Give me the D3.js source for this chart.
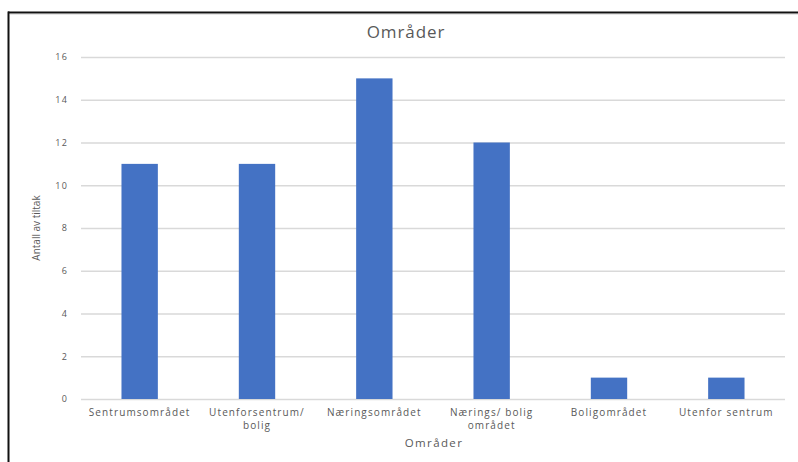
<!DOCTYPE html>
<html><head><meta charset="utf-8">
<script src="https://cdn.jsdelivr.net/npm/d3@7"></script>
<style>body{margin:0;background:#fff}text{font-family:"Open Sans","DejaVu Sans",sans-serif}</style>
</head><body><svg id="c" width="798" height="462"></svg>
<script>
const categories = [["Sentrumsområdet"],["Utenforsentrum/","bolig"],["Næringsområdet"],["Nærings/ bolig","området"],["Boligområdet"],["Utenfor sentrum"]];
const values = [11, 11, 15, 12, 1, 1];
const yTicks = [0, 2, 4, 6, 8, 10, 12, 14, 16];
const title = "Områder";
const xTitle = "Områder";
const yTitle = "Antall av tiltak";

const svg = d3.select("#c");
const m = {l: 81, r: 785, t: 57, b: 399};
const x = d3.scaleBand().domain(d3.range(values.length)).range([m.l, m.r]).paddingInner(0.69).paddingOuter(0.345);
const y = d3.scaleLinear().domain([0, 16]).range([m.b, m.t]);

// frame
svg.append("line").attr("x1", 8).attr("x2", 798).attr("y1", 12.5).attr("y2", 12.5).attr("stroke", "#111").attr("stroke-width", 2);
svg.append("line").attr("x1", 8.5).attr("x2", 8.5).attr("y1", 11.5).attr("y2", 462).attr("stroke", "#111").attr("stroke-width", 2);
svg.append("line").attr("x1", 10).attr("x2", 798).attr("y1", 14.5).attr("y2", 14.5).attr("stroke", "#e6e6e6").attr("stroke-width", 1);

// grid
const yAxis = d3.axisLeft(y).tickValues(yTicks).tickSize(-(m.r - m.l)).tickPadding(13);
const ga = svg.append("g").attr("transform", `translate(${m.l},0)`).call(yAxis);
ga.select(".domain").remove();
ga.selectAll(".tick line").attr("stroke", "#d9d9d9").attr("stroke-width", 1.5);
ga.selectAll(".tick text").attr("fill", "#595959").attr("font-size", 9).attr("letter-spacing", 1.2).attr("font-family", "Open Sans, sans-serif");

// bars
svg.selectAll("rect.bar").data(values).join("rect").attr("class", "bar")
  .attr("x", (d, i) => x(i)).attr("width", x.bandwidth())
  .attr("y", d => y(d)).attr("height", d => y(0) - y(d))
  .attr("fill", "#4472C4");

// x labels
const xl = svg.append("g");
categories.forEach((lines, i) => {
  const cx = x(i) + x.bandwidth() / 2;
  const t = xl.append("text").attr("x", cx).attr("y", 416)
    .attr("text-anchor", "middle").attr("fill", "#595959").attr("font-size", 10).attr("letter-spacing", 1.1);
  lines.forEach((s, j) => t.append("tspan").attr("x", cx).attr("dy", j ? 13 : 0).text(s));
});

svg.append("text").attr("x", 406).attr("y", 38).attr("text-anchor", "middle").attr("fill", "#595959").attr("font-size", 17).attr("letter-spacing", 0.9).text(title);
svg.append("text").attr("x", 434).attr("y", 447).attr("text-anchor", "middle").attr("fill", "#595959").attr("font-size", 11.5).attr("letter-spacing", 1.4).text(xTitle);
svg.append("text").attr("transform", "translate(40,228) rotate(-90)").attr("text-anchor", "middle").attr("fill", "#595959").attr("font-size", 10).text(yTitle);
</script></body></html>
